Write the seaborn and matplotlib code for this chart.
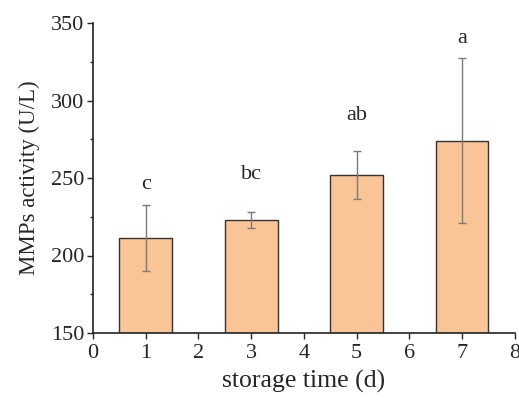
import numpy as np
import pandas as pd
import matplotlib
matplotlib.use("Agg")
import matplotlib.pyplot as plt
import seaborn as sns
from matplotlib.ticker import MultipleLocator

# dados
days = [1, 3, 5, 7]
activity = [211.3, 222.9, 251.9, 273.9]
err = [21.5, 5.2, 15.2, 53.2]
letters = ["c", "bc", "ab", "a"]
letter_y = [246, 252, 290, 340]

sns.set_theme(style="ticks")
plt.rcParams["font.family"] = ["Liberation Serif", "DejaVu Serif"]

df = pd.DataFrame({"day": days, "activity": activity})

fig = plt.figure(figsize=(5.19, 4.0), dpi=100)
ax = fig.add_axes([0.179, 0.1675, 0.813, 0.775])

sns.barplot(data=df, x="day", y="activity", native_scale=True, width=0.5,
            color="#f9c496", saturation=1, edgecolor="#333333", linewidth=1.0,
            errorbar=None, ax=ax)
ax.errorbar(days, activity, yerr=err, fmt="none", ecolor="#7a7a7a",
            elinewidth=1.0, capsize=3, capthick=1.0)

for d, t, ly in zip(days, letters, letter_y):
    ax.text(d, ly, t, ha="center", va="center", fontsize=16)

ax.set_xlim(0, 8)
ax.set_ylim(150, 350)
ax.xaxis.set_major_locator(MultipleLocator(1))
ax.yaxis.set_major_locator(MultipleLocator(50))
ax.yaxis.set_minor_locator(MultipleLocator(25))
ax.tick_params(axis="both", direction="out", labelsize=16, length=4, width=1, pad=2)
ax.tick_params(axis="x", pad=4)
ax.tick_params(axis="y", which="minor", direction="out", length=2.5, width=1)
for s in ["top", "right"]:
    ax.spines[s].set_visible(False)
for s in ["left", "bottom"]:
    ax.spines[s].set_linewidth(1.2)
    ax.spines[s].set_color("#222222")

ax.set_xlabel("storage time (d)", fontsize=18.5, labelpad=5)
ax.set_ylabel("MMPs activity (U/L)", fontsize=16.5, labelpad=8)

fig.savefig("out.png", dpi=100)
